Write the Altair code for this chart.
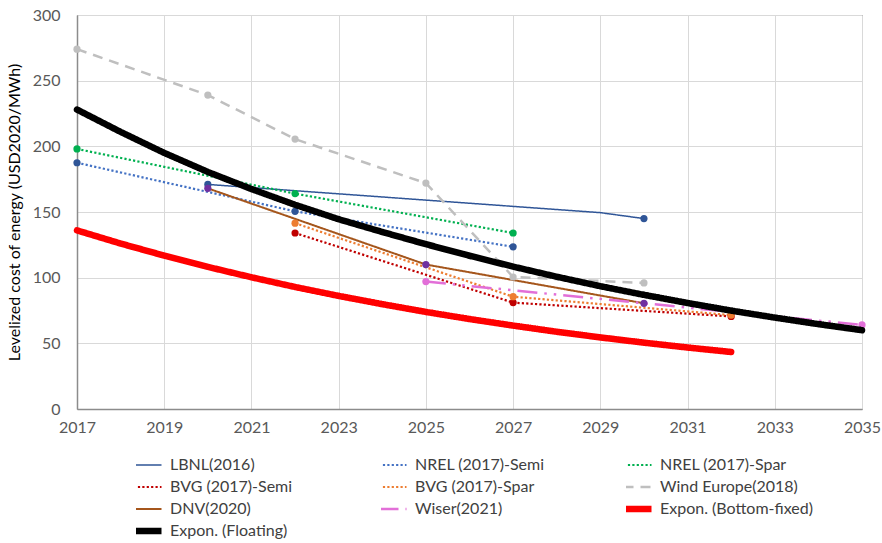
import altair as alt
import pandas as pd

# ---- series (legend order) ----
series_names = [
    "LBNL(2016)", "NREL (2017)-Semi", "NREL (2017)-Spar",
    "BVG (2017)-Semi", "BVG (2017)-Spar", "Wind Europe(2018)",
    "DNV(2020)", "Wiser(2021)", "Expon. (Bottom-fixed)", "Expon. (Floating)",
]

# ---- published LCOE estimates (USD2020/MWh) ----
lbnl_year = [2020, 2029, 2030]
lbnl_cost = [171, 149.5, 145]
lbnl_marked = [True, False, True]

nrel_semi_year = [2017, 2022, 2027]
nrel_semi_cost = [187.5, 150.5, 123.5]

nrel_spar_year = [2017, 2022, 2027]
nrel_spar_cost = [198, 164, 134]

bvg_semi_year = [2022, 2027, 2032]
bvg_semi_cost = [134, 81, 70.5]

bvg_spar_year = [2022, 2027, 2032]
bvg_spar_cost = [141.5, 85.5, 71.5]

wind_europe_year = [2017, 2020, 2022, 2025, 2027, 2030]
wind_europe_cost = [274, 239, 205.5, 172, 100.5, 96]

dnv_year = [2020, 2025, 2030]
dnv_cost = [168, 110, 80.5]

wiser_year = [2025, 2035]
wiser_cost = [97, 64]

# ---- exponential trend lines ----
floating_year = [2017, 2018, 2019, 2020, 2021, 2022, 2023, 2024, 2025, 2026,
                 2027, 2028, 2029, 2030, 2031, 2032, 2033, 2034, 2035]
floating_cost = [228, 211, 195, 180.5, 167.5, 155.5, 144.5, 134.8, 125.5, 116.7,
                 108.4, 100.7, 93.5, 86.9, 80.7, 74.9, 69.6, 64.6, 60.0]

bottom_year = [2017, 2018, 2019, 2020, 2021, 2022, 2023, 2024, 2025, 2026,
               2027, 2028, 2029, 2030, 2031, 2032]
bottom_cost = [136, 126.0, 116.8, 108.2, 100.3, 92.9, 86.1, 79.8, 73.9, 68.5,
               63.5, 58.8, 54.5, 50.5, 46.8, 43.4]

x_ticks = [2017, 2019, 2021, 2023, 2025, 2027, 2029, 2031, 2033, 2035]
y_ticks = [0, 50, 100, 150, 200, 250, 300]

# ---- styles ----
line_colors = ["#2F5597", "#4472C4", "#00B050", "#C00000", "#ED7D31",
               "#BFBFBF", "#A5561C", "#E26FD8", "#FF0000", "#000000"]
marker_colors = {
    "LBNL(2016)": "#2F5597", "NREL (2017)-Semi": "#2F5597",
    "NREL (2017)-Spar": "#00B050", "BVG (2017)-Semi": "#C00000",
    "BVG (2017)-Spar": "#ED7D31", "Wind Europe(2018)": "#BFBFBF",
    "DNV(2020)": "#7030A0", "Wiser(2021)": "#E26FD8",
}
dot = [2.2, 2.2]
line_dashes = [[1, 0], dot, dot, dot, dot, [10, 7], [1, 0],
               [20, 7, 2.5, 7, 2.5, 7], [1, 0], [1, 0]]
line_widths = [1.5, 2.2, 2.2, 2.2, 2.2, 2.5, 2.0, 2.5, 6.5, 6.5]

FONT = "Lato"

# ---- tables ----
observed = [
    ("LBNL(2016)", lbnl_year, lbnl_cost, lbnl_marked),
    ("NREL (2017)-Semi", nrel_semi_year, nrel_semi_cost, None),
    ("NREL (2017)-Spar", nrel_spar_year, nrel_spar_cost, None),
    ("BVG (2017)-Semi", bvg_semi_year, bvg_semi_cost, None),
    ("BVG (2017)-Spar", bvg_spar_year, bvg_spar_cost, None),
    ("Wind Europe(2018)", wind_europe_year, wind_europe_cost, None),
    ("DNV(2020)", dnv_year, dnv_cost, None),
    ("Wiser(2021)", wiser_year, wiser_cost, None),
]
rows = []
for name, yrs, vals, marks in observed:
    for i, (yr, v) in enumerate(zip(yrs, vals)):
        rows.append({
            "series": name, "year": yr, "cost": v,
            "marked": True if marks is None else marks[i],
            "mcolor": marker_colors[name],
        })
obs_df = pd.DataFrame(rows)

trend_rows = []
for name, yrs, vals in [("Expon. (Bottom-fixed)", bottom_year, bottom_cost),
                        ("Expon. (Floating)", floating_year, floating_cost)]:
    for yr, v in zip(yrs, vals):
        trend_rows.append({"series": name, "year": yr, "cost": v})
trend_df = pd.DataFrame(trend_rows)

# ---- encodings ----
legend = alt.Legend(
    title=None, orient="none", direction="horizontal", legendX=59, legendY=439,
    columns=3, gridAlign="all", columnPadding=58, rowPadding=0, padding=0,
    clipHeight=22,
    symbolType="M-1.75,0H1.75", symbolSize=256, labelOffset=11,
    labelFont=FONT, labelFontSize=16, labelColor="#404040", labelLimit=300,
)

x_enc = alt.X(
    "year:Q",
    scale=alt.Scale(domain=[2017, 2035], nice=False, zero=False),
    axis=alt.Axis(values=x_ticks, format="d", title=None, ticks=False,
                  labelPadding=10, labelFlush=False, gridColor="#D9D9D9"),
)
y_enc = alt.Y(
    "cost:Q",
    scale=alt.Scale(domain=[0, 300], nice=False),
    axis=alt.Axis(values=y_ticks, title="Levelized cost of energy (USD2020/MWh)",
                  ticks=False, labelPadding=17, titlePadding=10,
                  gridColor="#D9D9D9"),
)
color_enc = alt.Color("series:N", scale=alt.Scale(domain=series_names, range=line_colors),
                      legend=legend)
dash_enc = alt.StrokeDash("series:N", scale=alt.Scale(domain=series_names, range=line_dashes),
                          legend=legend)
width_enc = alt.StrokeWidth("series:N",
                            scale=alt.Scale(type="ordinal", domain=series_names, range=line_widths),
                            legend=legend)

lines = alt.Chart(obs_df).mark_line().encode(
    x=x_enc, y=y_enc, color=color_enc, strokeDash=dash_enc, strokeWidth=width_enc
)

points = alt.Chart(obs_df).transform_filter("datum.marked").mark_circle(
    size=52, opacity=1
).encode(
    x=x_enc, y=y_enc, fill=alt.Fill("mcolor:N", scale=None)
)

trends = alt.Chart(trend_df).mark_line(strokeCap="round").encode(
    x=x_enc, y=y_enc, color=color_enc, strokeDash=dash_enc, strokeWidth=width_enc
)

chart = alt.layer(lines, points, trends).properties(
    width=785, height=394,
    padding={"left": 77, "top": 15, "right": 20, "bottom": 134},
    autosize=alt.AutoSizeParams(type="none"),
).configure(
    font=FONT,
).configure_view(
    stroke="#595959", strokeWidth=1,
).configure_axis(
    labelFont=FONT, labelFontSize=16, labelColor="#595959",
    titleFont=FONT, titleFontSize=16, titleFontWeight="normal", titleColor="#000000",
    domainColor="#8C8C8C", domainWidth=1.5, gridWidth=1,
)

chart.save("out.html", embed_options={"renderer": "svg", "actions": False})
